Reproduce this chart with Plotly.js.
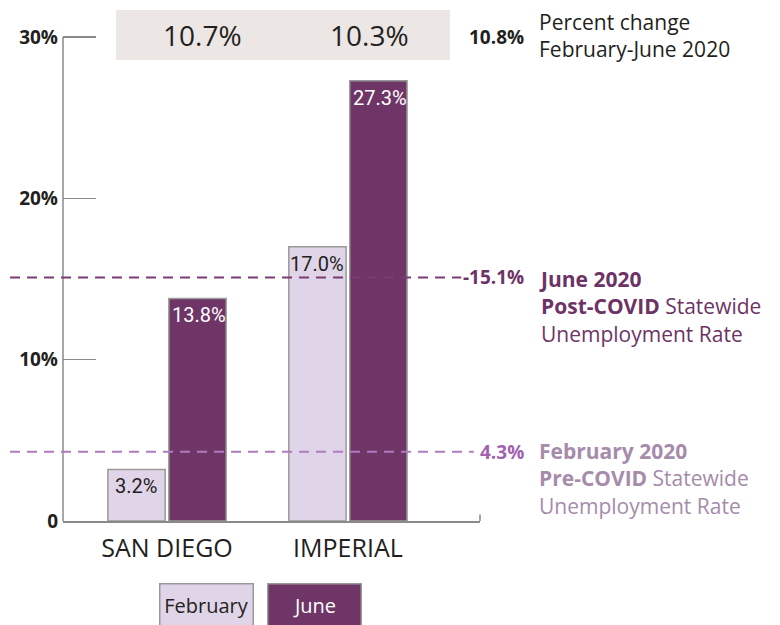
<!DOCTYPE html>
<html>
<head>
<meta charset="utf-8">
<script src="https://cdn.plot.ly/plotly-3.0.1.min.js"></script>
<style>
  html, body { margin: 0; padding: 0; background: #ffffff; }
  #chart { width: 780px; height: 625px; }
</style>
</head>
<body>
<div id="chart"></div>
<script>
// ---- data ----
const categories = ['SAN DIEGO', 'IMPERIAL'];
const seriesNames = ['February', 'June'];
const febValues = [3.2, 17.0];
const juneValues = [13.8, 27.3];
const febLabels = ['3.2%', '17.0%'];
const juneLabels = ['13.8%', '27.3%'];
const changeLabels = ['10.7%', '10.3%'];
const statewideChangeLabel = '10.8%';
const statewideValues = [4.3, 15.1];       // February 2020, June 2020
const statewideLabels = ['4.3%', '-15.1%'];
const yTickVals = [0, 10, 20, 30];
const yTickText = ['0', '10%', '20%', '30%'];

// ---- styles ----
const FEB_COLOR = '#e0d4e8';
const JUNE_COLOR = '#6f3567';
const EDGE = '#9a9a9a';
const AXIS = '#8a8a8a';
const INK = '#231f20';
const REG = 'Open Sans, Noto Sans, sans-serif';
const NARROW = 'Roboto, Liberation Sans, sans-serif';
const FEB_LINE = '#b07abf';
const JUNE_LINE = '#7a3c72';
const FEB_TEXT = '#a68bab';
const FEB_VAL = '#a262b0';
const JUNE_TEXT = '#6e3366';

const traces = [
  { type: 'bar', name: seriesNames[0], x: categories, y: febValues,
    marker: { color: FEB_COLOR, line: { color: EDGE, width: 1.5 } },
    hoverinfo: 'none' },
  { type: 'bar', name: seriesNames[1], x: categories, y: juneValues,
    marker: { color: JUNE_COLOR, line: { color: EDGE, width: 1.5 } },
    hoverinfo: 'none' }
];

const annotations = [];
// bar value labels
categories.forEach((c, i) => {
  annotations.push({ xref: 'x', yref: 'y', x: c, y: febValues[i], xshift: -31, yshift: -3,
    yanchor: 'top', xanchor: 'center', showarrow: false, text: febLabels[i],
    font: { family: NARROW, size: 20, color: INK } });
  annotations.push({ xref: 'x', yref: 'y', x: c, y: juneValues[i], xshift: 32, yshift: -3,
    yanchor: 'top', xanchor: 'center', showarrow: false, text: juneLabels[i],
    font: { family: NARROW, size: 20, color: '#ffffff' } });
});
// percent change labels in grey box
const changeShift = [35, 22];
categories.forEach((c, i) => {
  annotations.push({ xref: 'x', yref: 'y', x: c, y: 30.13, xshift: changeShift[i],
    xanchor: 'center', yanchor: 'middle', showarrow: false, text: changeLabels[i],
    font: { family: REG, size: 28, color: INK } });
});
// statewide change
annotations.push({ xref: 'paper', yref: 'y', x: 1.11, y: 30, xanchor: 'right', yanchor: 'middle',
  showarrow: false, text: '<b>' + statewideChangeLabel + '</b>',
  font: { family: REG, size: 19, color: INK } });
annotations.push({ xref: 'paper', yref: 'y', x: 1.137, y: 30.12, xanchor: 'left', yanchor: 'middle',
  align: 'left', showarrow: false, text: 'Percent change<br>February-June 2020',
  font: { family: REG, size: 21, color: INK } });
// statewide rate labels
annotations.push({ xref: 'paper', yref: 'y', x: 1.11, y: statewideValues[1], xanchor: 'right', yanchor: 'middle',
  showarrow: false, text: '<b>' + statewideLabels[1] + '</b>',
  font: { family: REG, size: 19, color: JUNE_TEXT } });
annotations.push({ xref: 'paper', yref: 'y', x: 1.11, y: statewideValues[0], xanchor: 'right', yanchor: 'middle',
  showarrow: false, text: '<b>' + statewideLabels[0] + '</b>',
  font: { family: REG, size: 19, color: FEB_VAL } });
annotations.push({ xref: 'paper', yref: 'y', x: 1.137, y: statewideValues[1], xanchor: 'left', yanchor: 'top',
  yshift: 14, align: 'left', showarrow: false,
  text: '<b>June 2020</b><br><b>Post-COVID</b> Statewide<br>Unemployment Rate',
  font: { family: REG, size: 21, color: JUNE_TEXT } });
annotations.push({ xref: 'paper', yref: 'y', x: 1.137, y: statewideValues[0], xanchor: 'left', yanchor: 'top',
  yshift: 17, align: 'left', showarrow: false,
  text: '<b>February 2020</b><br><b>Pre-COVID</b> Statewide<br>Unemployment Rate',
  font: { family: REG, size: 21, color: FEB_TEXT } });
// legend boxes
annotations.push({ xref: 'paper', yref: 'paper', x: 0.345, y: -0.163, xanchor: 'center', yanchor: 'middle',
  showarrow: false, text: seriesNames[0], width: 90, height: 40, borderpad: 1,
  bgcolor: FEB_COLOR, bordercolor: EDGE, borderwidth: 1.5,
  font: { family: REG, size: 20, color: INK } });
annotations.push({ xref: 'paper', yref: 'paper', x: 0.604, y: -0.163, xanchor: 'center', yanchor: 'middle',
  showarrow: false, text: seriesNames[1], width: 90, height: 40, borderpad: 1,
  bgcolor: JUNE_COLOR, bordercolor: EDGE, borderwidth: 1.5,
  font: { family: REG, size: 20, color: '#ffffff' } });

const shapes = [
  // grey box behind percent change values
  { type: 'rect', xref: 'x', yref: 'y', x0: -0.282, x1: 1.564, y0: 28.58, y1: 31.68,
    fillcolor: '#ece7e5', line: { width: 0 }, layer: 'below' },
  // y axis line
  { type: 'line', xref: 'paper', yref: 'y', x0: 0, x1: 0, y0: 0, y1: 30,
    line: { color: AXIS, width: 1.5 } },
  // right end tick of x axis
  { type: 'line', xref: 'paper', yref: 'y', x0: 1, x1: 1, y0: 0, y1: 0.4,
    line: { color: AXIS, width: 1.5 } },
  // statewide dashed lines
  { type: 'line', xref: 'paper', yref: 'y', x0: -0.127, x1: 0.955,
    y0: statewideValues[1], y1: statewideValues[1],
    line: { color: JUNE_LINE, width: 2, dash: '10px,7px' } },
  { type: 'line', xref: 'paper', yref: 'y', x0: -0.127, x1: 0.985,
    y0: statewideValues[0], y1: statewideValues[0],
    line: { color: FEB_LINE, width: 2, dash: '10px,7px' } }
];

const layout = {
  width: 780, height: 625,
  margin: { l: 63, r: 300, t: 0, b: 104, pad: 0 },
  paper_bgcolor: '#ffffff', plot_bgcolor: 'rgba(0,0,0,0)',
  showlegend: false,
  barmode: 'group', bargap: 0.326, bargroupgap: 0.06,
  xaxis: {
    type: 'category', range: [-0.575, 1.73], fixedrange: true,
    showline: true, linecolor: AXIS, linewidth: 1.5,
    ticks: '', showgrid: false, zeroline: false,
    tickfont: { family: REG, size: 25, color: INK },
    ticklabelstandoff: 4
  },
  yaxis: {
    range: [0, 32.3], fixedrange: true,
    showline: false, showgrid: false, zeroline: false,
    tickvals: yTickVals, ticktext: yTickText,
    ticks: 'inside', ticklen: 33, tickwidth: 1.5, tickcolor: AXIS,
    tickfont: { family: REG, size: 19, color: INK, weight: 'bold' },
    ticklabelstandoff: 4
  },
  shapes: shapes,
  annotations: annotations
};

Plotly.newPlot('chart', traces, layout, { displayModeBar: false, staticPlot: true });
</script>
</body>
</html>
